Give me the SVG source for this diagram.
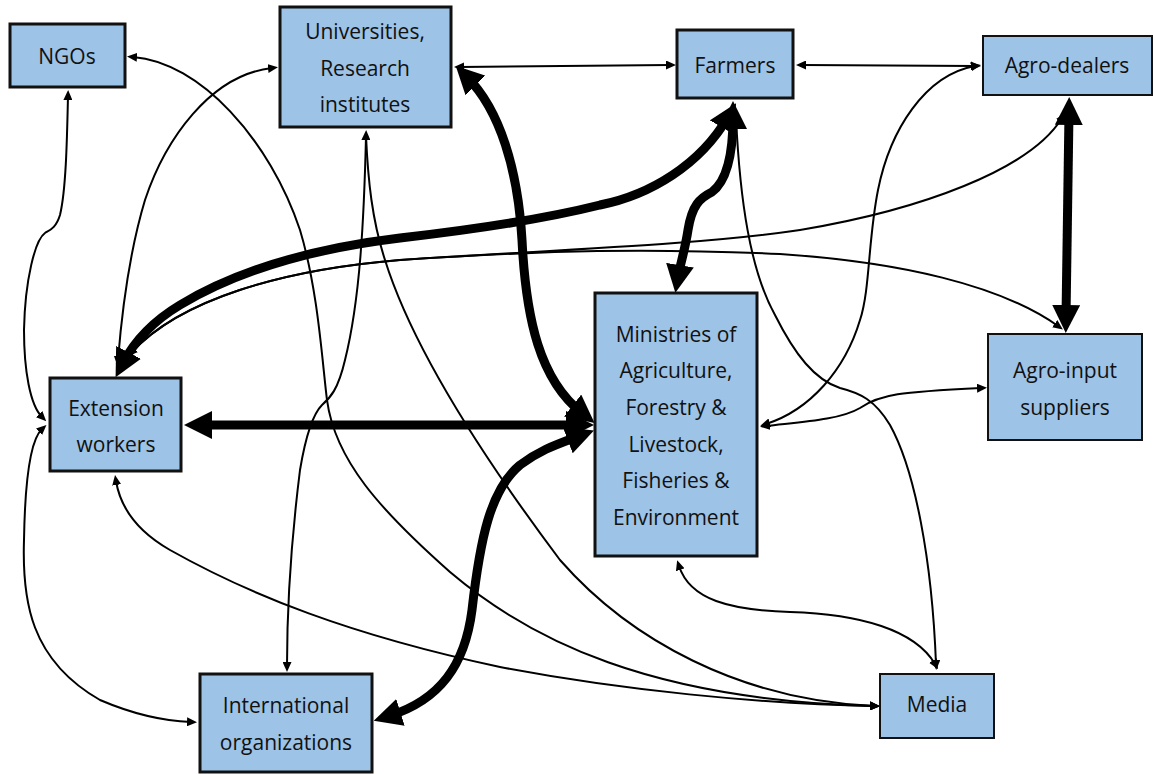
<svg xmlns="http://www.w3.org/2000/svg" width="1155" height="774" viewBox="0 0 1155 774">
<style>
.box{fill:#9DC3E6;stroke:#111;stroke-width:2}
.bx3{stroke-width:3}
.lbl{font-family:"Open Sans","Liberation Sans",sans-serif;font-size:21px;fill:#111;text-anchor:middle}
.thin{fill:none;stroke:#000;stroke-width:2;marker-start:url(#as);marker-end:url(#as)}
.thick{fill:none;stroke:#000;stroke-width:9;marker-start:url(#ab);marker-end:url(#ab)}
</style>
<defs>
<marker id="ab" viewBox="0 0 28 28" refX="12" refY="14" markerWidth="28" markerHeight="28" markerUnits="userSpaceOnUse" orient="auto-start-reverse"><path d="M0,0 L28,14 L0,28 z" fill="#000"/></marker>
<marker id="as" viewBox="0 0 10 9" refX="4" refY="4.5" markerWidth="10" markerHeight="9" markerUnits="userSpaceOnUse" orient="auto-start-reverse"><path d="M0,0 L10,4.5 L0,9 z" fill="#000"/></marker>
</defs>
<rect width="1155" height="774" fill="#fff"/>
<g id="connectors">
<path class="thin" d="M133,57 C200,62 270,140 300,230 C318,290 322,360 327,400 C335,460 380,510 450,572 C530,640 650,700 874,706"/>
<path class="thin" d="M366,136 C368,180 372,220 385,260 C410,340 470,440 560,560 C630,640 740,700 874,706" style="marker-start:none"/>
<path class="thin" d="M366,136 C364,220 360,300 345,360 C338,390 330,398 322,405 C312,415 305,440 300,470 C290,550 287,620 287,666"/>
<path class="thin" d="M68,96 C67,140 66,190 60,215 C56,228 50,230 45,233 C35,240 25,280 24,330 C24,370 30,405 42,417"/>
<path class="thin" d="M42,429 C30,440 25,480 24,540 C22,600 30,660 100,700 C135,715 165,721 191,722"/>
<path class="thin" d="M272,68 C210,75 165,140 145,200 C130,250 122,310 118,360"/>
<path class="thin" d="M460,67 L670,65"/>
<path class="thin" d="M802,65 L975,66"/>
<path class="thin" d="M975,66 C925,75 890,130 878,190 C868,240 870,290 860,320 C845,370 810,410 766,424"/>
<path class="thin" d="M766,426 C800,422 840,420 860,408 C880,394 900,392 981,388"/>
<path class="thin" d="M736,118 C740,200 750,270 775,315 C795,355 815,380 840,388 C860,393 875,400 890,425 C915,470 932,560 936,664" style="marker-start:none"/>
<path class="thin" d="M679,566 C690,600 730,610 790,612 C860,614 915,630 935,664"/>
<path class="thin" d="M116,481 C120,505 135,530 170,550 C250,595 350,635 500,667 C620,690 760,704 874,706"/>
<path class="thin" d="M132,352 C180,300 280,270 400,260 C550,250 700,245 800,230 C920,210 1030,170 1062,118"/>
<path class="thin" d="M132,352 C180,300 280,270 400,260 C550,250 650,248 780,254 C900,262 1000,285 1058,326" style="marker-start:none"/>
<path class="thick" d="M467,77 C500,110 518,170 522,240 C526,320 540,380 582,413"/>
<path class="thick" d="M200,425 L578,425"/>
<path class="thick" d="M389,716 C440,700 465,665 472,610 C480,540 490,490 520,465 C540,450 555,445 579,436"/>
<path class="thick" d="M728,117 C700,165 650,195 600,205 C540,220 470,230 400,238 C300,250 230,275 180,305 C155,320 135,340 123,363"/>
<path class="thick" d="M733,117 C733,150 728,180 712,192 C700,198 692,205 688,230 C685,250 680,265 678,277"/>
<path class="thick" d="M1069,113 L1066,317"/>
</g>
<g id="ngos"><rect class="box bx3" x="10" y="24" width="115" height="63"/><text class="lbl" x="67" y="64">NGOs</text></g>
<g id="universities"><rect class="box bx3" x="280" y="7" width="171" height="120"/><text class="lbl" x="365" y="39">Universities,</text><text class="lbl" x="365" y="76">Research</text><text class="lbl" x="365" y="112">institutes</text></g>
<g id="farmers"><rect class="box bx3" x="677" y="30" width="116" height="68"/><text class="lbl" x="735" y="73">Farmers</text></g>
<g id="agro-dealers"><rect class="box" x="983" y="36" width="169" height="59"/><text class="lbl" x="1067" y="73">Agro-dealers</text></g>
<g id="agro-input"><rect class="box" x="988" y="334" width="154" height="106"/><text class="lbl" x="1065" y="378">Agro-input</text><text class="lbl" x="1065" y="415">suppliers</text></g>
<g id="extension"><rect class="box bx3" x="50" y="378" width="131" height="93"/><text class="lbl" x="116" y="416">Extension</text><text class="lbl" x="116" y="452">workers</text></g>
<g id="ministries"><rect class="box bx3" x="595" y="293" width="162" height="263"/><text class="lbl" x="676" y="342">Ministries of</text><text class="lbl" x="676" y="378">Agriculture,</text><text class="lbl" x="676" y="415">Forestry &amp;</text><text class="lbl" x="676" y="452">Livestock,</text><text class="lbl" x="676" y="488">Fisheries &amp;</text><text class="lbl" x="676" y="525">Environment</text></g>
<g id="international"><rect class="box bx3" x="200" y="674" width="172" height="98"/><text class="lbl" x="286" y="713">International</text><text class="lbl" x="286" y="750">organizations</text></g>
<g id="media"><rect class="box" x="880" y="674" width="114" height="64"/><text class="lbl" x="937" y="712">Media</text></g>
</svg>
